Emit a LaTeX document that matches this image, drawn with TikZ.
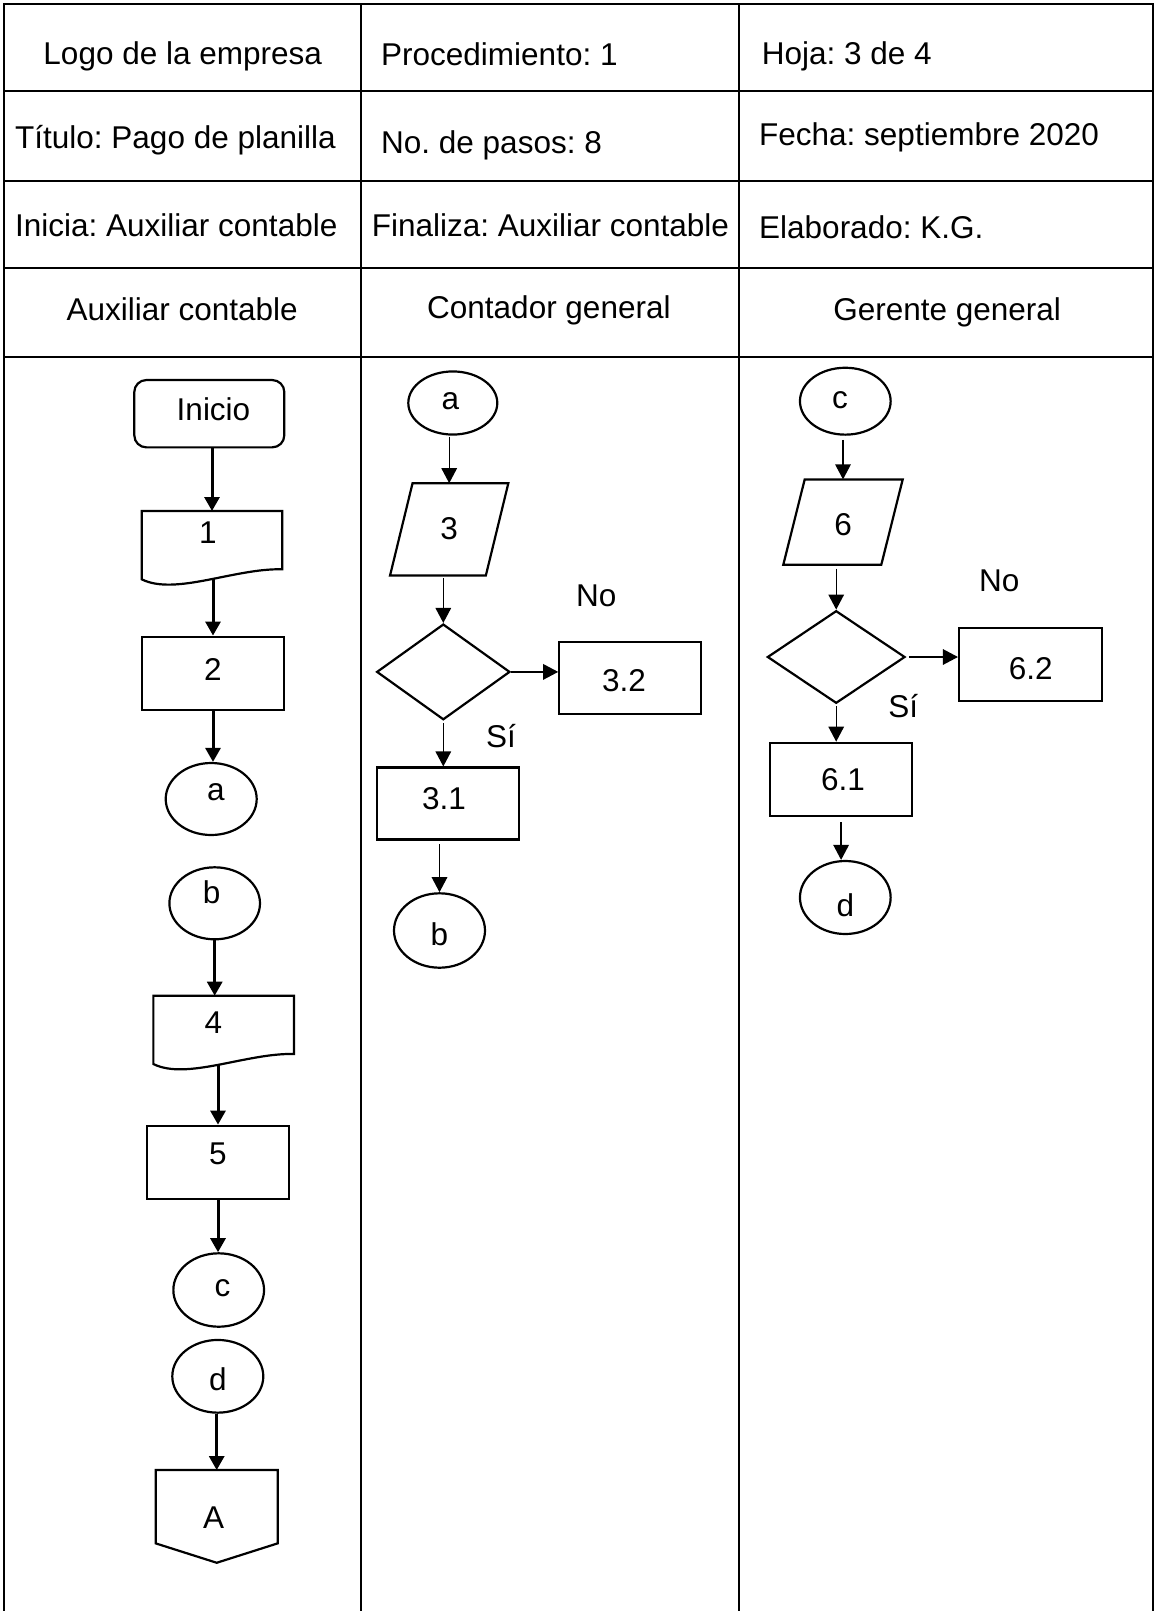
\documentclass[tikz,border=0pt]{standalone}
\usepackage{fontspec}
\setmainfont{Liberation Sans}
\usetikzlibrary{shapes.geometric,arrows.meta}
\frenchspacing

% document symbol: straight top and sides, wavy bottom edge
\newcommand\docout[1]{%
  \draw[ln] (#1.south west) -- (#1.north west) -- (#1.north east)
    -- ([yshift=10pt]#1.south east)
    .. controls ([xshift=-47.3pt,yshift=11.3pt]#1.south east)
           and ([xshift=33.3pt,yshift=-16.7pt]#1.south west) .. (#1.south west) -- cycle;}
% input/output symbol: parallelogram leaning right
\newcommand\slantout[2]{%
  \draw[ln] (#1.south west) -- ([xshift=-#2pt]#1.south east)
    -- (#1.north east) -- ([xshift=#2pt]#1.north west) -- cycle;}

\begin{document}
\begin{tikzpicture}[x=1pt,y=-1pt,
  every node/.style={font=\fontsize{31.5}{38}\selectfont, inner sep=0pt},
  tabline/.style={line width=2.2pt},
  ln/.style={line width=2.2pt, line join=miter},
  sz/.style 2 args={minimum width=#1pt, minimum height=#2pt},
  tb/.style 2 args={text height=#1pt, text depth=#2pt},
  box/.style={draw, ln, rectangle},
  term/.style={draw, ln, rectangle, rounded corners=12pt},
  conn/.style={draw, ln, ellipse},
  dec/.style={draw, ln, diamond},
  outl/.style={rectangle, outer sep=0pt},
  cell/.style={anchor=base west},
  lanehead/.style={anchor=base},
  lbl/.style={anchor=base},
  flowA/.style={line width=3pt, -{Triangle[length=14pt,width=15pt]}},
  flowB/.style={line width=1.4pt, -{Triangle[length=15pt,width=15.5pt]}},
]
\useasboundingbox (0,0) rectangle (1155,1611);

% ---- header table and swimlanes ----
\draw[tabline] (4,1611) -- (4,4) -- (1153,4) -- (1153,1611);
\foreach \yy in {91,181,268.3,357.3} \draw[tabline] (4,\yy) -- (1153,\yy);
\foreach \xx in {361,739} \draw[tabline] (\xx,4) -- (\xx,1611);

\node[lanehead] (hLogo) at (182.7,65) {Logo de la empresa};
\node[cell] (hProc) at (381,65.7) {Procedimiento: 1};
\node[cell] (hHoja) at (761.7,65) {Hoja: 3 de 4};
\node[cell] (hTit) at (15,148.3) {Título: Pago de planilla};
\node[cell] (hPasos) at (381,153.3) {No. de pasos: 8};
\node[cell] (hFecha) at (759,145) {Fecha: septiembre 2020};
\node[cell] (hIni) at (15,236.7) {Inicia: Auxiliar contable};
\node[cell] (hFin) at (371.7,236.7) {Finaliza: Auxiliar contable};
\node[cell] (hElab) at (759,238.3) {Elaborado: K.G.};
\node[lanehead] (lane1) at (182.2,320) {Auxiliar contable};
\node[lanehead] (lane2) at (548.9,318.3) {Contador general};
\node[lanehead] (lane3) at (947.2,320) {Gerente general};

% ---- Auxiliar contable ----
\node[term, sz={150}{67.3}, tb={22.5}{9.9}] (ini) at (209.3,413.7) {\hspace*{8.4pt}Inicio};
\node[outl, sz={140.6}{68.3}, tb={22.5}{24.9}] (doc1) at (212,545.15) {1\hspace*{8pt}};
\node[box, sz={142.6}{73.3}, tb={22.5}{7.7}] (s2) at (213,673.3) {2};
\node[conn, sz={91}{72}, tb={22.5}{20.5}] (ca) at (211.2,799) {\hspace*{9.6pt}a};
\node[conn, sz={90.6}{72}, tb={22.5}{22.5}] (cb) at (214.7,903.3) {b\hspace*{6pt}};
\node[outl, sz={140.7}{68.3}, tb={22.5}{15.7}] (doc4) at (223.7,1029.85) {4\hspace*{20.8pt}};
\node[box, sz={142.6}{73.3}, tb={22.5}{19.1}] (s5) at (218,1162.35) {5};
\node[conn, sz={90.7}{73.4}, tb={22.5}{9.1}] (cc) at (218.7,1290) {\hspace*{7.6pt}c};
\node[conn, sz={91}{72.7}, tb={27.4}{0}] (cd) at (217.8,1376.3) {d};
\node[outl, sz={122}{73.3}, tb={43.2}{0}] (offA) at (216.7,1506.7) {A\hspace*{6pt}};

\docout{doc1}
\docout{doc4}
\draw[ln] (offA.south west) -- (offA.north west) -- (offA.north east)
  -- (offA.south east) -- ([yshift=-19.4pt]offA.south) -- cycle;

\draw[flowA] (doc1.north |- ini.south) -- (doc1.north);
\draw[flowA] (s2.north |- doc1.south) -- (s2.north);
\draw[flowA] (s2.south) -- (s2.south |- ca.north);
\draw[flowA] (cb.south) -- (cb.south |- doc4.north);
\draw[flowA] (s5.north |- doc4.south) -- (s5.north);
\draw[flowA] (s5.south) -- (s5.south |- cc.north);
\draw[flowA] (offA.north |- cd.south) -- (offA.north);

% ---- Contador general ----
\node[conn, sz={89}{63.1}, tb={22.5}{8.9}] (ca2) at (452.8,403) {a\hspace*{4.8pt}};
\node[outl, sz={118.3}{92.3}, tb={22.5}{1.3}] (p3) at (449.2,529.35) {3};
\node[dec, sz={133.3}{95.7}] (dec3) at (443.3,671.9) {};
\node[box, sz={141.4}{72}, tb={26}{0}] (s32) at (630,678) {3.2\hspace*{12pt}};
\node[box, sz={142.3}{71.9}, tb={22.5}{10.1}] (s31) at (447.8,803.5) {3.1\hspace*{7.6pt}};
\node[conn, sz={91}{74.4}, tb={29}{0}] (cb2) at (439.5,930.5) {b};
\node[lbl] (no3) at (596.3,606.8) {No};
\node[lbl] (si3) at (501,747.7) {Sí};

\slantout{p3}{22.5}

\draw[flowB, shorten <=1pt] (p3.north |- ca2.south) -- (p3.north);
\draw[flowB, shorten <=2.5pt] (dec3.north |- p3.south) -- (dec3.north);
\draw[flowB] (dec3.east) -- (dec3.east -| s32.west);
\draw[flowB, shorten <=2pt] (dec3.south) -- (dec3.south |- s31.north);
\draw[flowB, shorten <=3.5pt] (cb2.north |- s31.south) -- (cb2.north);

% ---- Gerente general ----
\node[conn, sz={90.7}{66.9}, tb={22.5}{7.7}] (cc3) at (845.3,401.2) {c\hspace*{10.6pt}};
\node[outl, sz={119.4}{85.3}, tb={26.6}{0}] (p6) at (843,522.05) {6};
\node[dec, sz={137.7}{92.6}] (dec6) at (836.2,657) {};
\node[box, sz={143.3}{72.6}, tb={30.6}{0}] (s62) at (1030.7,664.3) {6.2};
\node[box, sz={142.3}{73.5}, tb={22.5}{0.5}] (s61) at (841.1,779.5) {\hspace*{4pt}6.1};
\node[conn, sz={90.7}{73}, tb={38.6}{0}] (cd3) at (845.3,897.5) {d};
\node[lbl] (no6) at (999.2,591.5) {No};
\node[lbl] (si6) at (903.3,717.8) {Sí};

\slantout{p6}{21.4}

\draw[flowB, shorten <=4pt] (p6.north |- cc3.south) -- (p6.north);
\draw[flowB, shorten <=4pt] (dec6.north |- p6.south) -- (dec6.north);
\draw[flowB, shorten <=3pt] (dec6.east) -- (dec6.east -| s62.west);
\draw[flowB, shorten <=2pt] (dec6.south) -- (dec6.south |- s61.north);
\draw[flowB, shorten <=5pt] (s61.south) -- (s61.south |- cd3.north);
\end{tikzpicture}
\end{document}
